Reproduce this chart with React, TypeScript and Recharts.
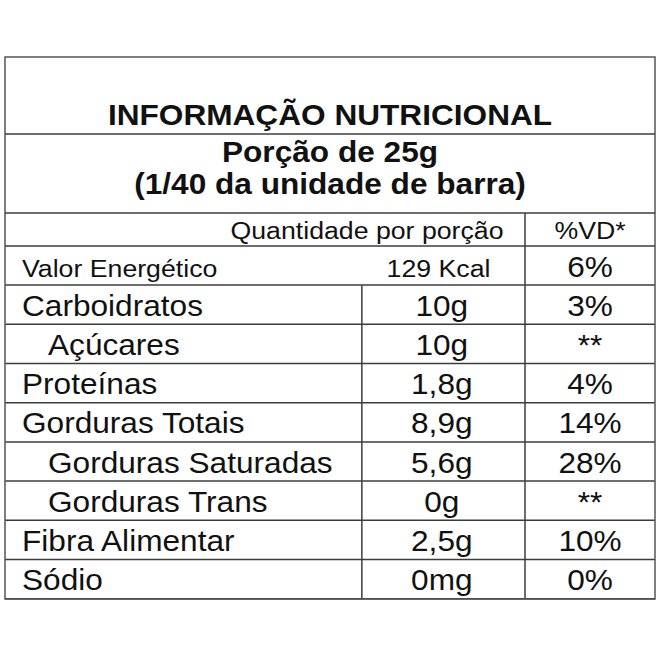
import { Bar, BarChart, LabelList, XAxis, YAxis } from "recharts";

// table content
const nutrients = [
  "Valor Energético",
  "Carboidratos",
  "Açúcares",
  "Proteínas",
  "Gorduras Totais",
  "Gorduras Saturadas",
  "Gorduras Trans",
  "Fibra Alimentar",
  "Sódio",
];
const amounts = ["129 Kcal", "10g", "10g", "1,8g", "8,9g", "5,6g", "0g", "2,5g", "0mg"];
const dailyValues = ["6%", "3%", "**", "4%", "14%", "28%", "**", "10%", "0%"];
const subItems = ["Açúcares", "Gorduras Saturadas", "Gorduras Trans"];

const title = "INFORMAÇÃO NUTRICIONAL";
const portionLines = ["Porção de 25g", "(1/40 da unidade de barra)"];
const amountHeader = "Quantidade por porção";
const dailyHeader = "%VD*";

const W = 660;
const H = 660;
const LEFT = 5;
const RIGHT = 655;
const TOP = 57;
const BOTTOM = 599;
const BODY_TOP = 246;
const SX = 1.09; // the label's lettering is a bit wide
const FONT = "'Liberation Sans', Arial, sans-serif";
const INK = "#111";
const RULE = "#3c3c3c";
const BIG = 29;
const SMALL = 24.5;
const BASE_OFFSET = 11;

const MID_COL = 0.549; // name | amount divider, share of width
const VD_COL = 0.8; // amount | %VD divider
const AMOUNT_CENTER = 0.672;
const VD_CENTER = 0.9;

const rows = nutrients.map((name, i) => ({
  name,
  amount: amounts[i],
  vd: dailyValues[i],
  span: 1,
}));

function Txt({ x, y, size, bold, anchor = "start", children }: any) {
  return (
    <text
      transform={`translate(${x},${y}) scale(${SX},1)`}
      textAnchor={anchor}
      fontFamily={FONT}
      fontSize={size}
      fontWeight={bold ? 700 : 400}
      fill={INK}
    >
      {children}
    </text>
  );
}

const RowShape = (props: any) => {
  const { x, y, width, height, index } = props;
  const bottom = y + height;
  return (
    <g>
      <line x1={x} x2={x + width} y1={bottom} y2={bottom} stroke={RULE} strokeWidth={1.5} />
      {index > 0 && (
        <line
          x1={x + width * MID_COL}
          x2={x + width * MID_COL}
          y1={y}
          y2={bottom}
          stroke={RULE}
          strokeWidth={1.5}
        />
      )}
      <line
        x1={x + width * VD_COL}
        x2={x + width * VD_COL}
        y1={y}
        y2={bottom}
        stroke={RULE}
        strokeWidth={1.5}
      />
    </g>
  );
};

const NameLabel = (props: any) => {
  const { x, y, height, value, index } = props;
  const indent = subItems.includes(value) ? 26 : 0;
  const size = index === 0 ? SMALL : BIG;
  return (
    <Txt x={x + 17 + indent} y={y + height / 2 + BASE_OFFSET} size={size}>
      {value}
    </Txt>
  );
};

const AmountLabel = (props: any) => {
  const { x, y, width, height, value, index } = props;
  const size = index === 0 ? SMALL : BIG;
  const cx = index === 0 ? x + width * 0.667 : x + width * AMOUNT_CENTER;
  return (
    <Txt x={cx} y={y + height / 2 + BASE_OFFSET} size={size} anchor="middle">
      {value}
    </Txt>
  );
};

const VdLabel = (props: any) => {
  const { x, y, width, height, value } = props;
  return (
    <Txt x={x + width * VD_CENTER} y={y + height / 2 + BASE_OFFSET} size={BIG} anchor="middle">
      {value}
    </Txt>
  );
};

function Header() {
  const vdX = LEFT + (RIGHT - LEFT) * VD_COL;
  return (
    <svg
      width={W}
      height={H}
      style={{ position: "absolute", left: 0, top: 0, pointerEvents: "none" }}
    >
      <rect
        x={LEFT}
        y={TOP}
        width={RIGHT - LEFT}
        height={BOTTOM - TOP}
        fill="none"
        stroke="#555"
        strokeWidth={1.5}
      />
      <line x1={LEFT} x2={RIGHT} y1={134} y2={134} stroke={RULE} strokeWidth={1.5} />
      <line x1={LEFT} x2={RIGHT} y1={213} y2={213} stroke={RULE} strokeWidth={1.5} />
      <line x1={LEFT} x2={RIGHT} y1={BODY_TOP} y2={BODY_TOP} stroke={RULE} strokeWidth={1.5} />
      <line x1={vdX} x2={vdX} y1={213} y2={BODY_TOP} stroke={RULE} strokeWidth={1.5} />
      <Txt x={330} y={125} size={BIG} bold anchor="middle">
        {title}
      </Txt>
      <Txt x={330} y={162} size={BIG} bold anchor="middle">
        {portionLines[0]}
      </Txt>
      <Txt x={330} y={194} size={BIG} bold anchor="middle">
        {portionLines[1]}
      </Txt>
      <Txt x={367} y={239} size={SMALL} anchor="middle">
        {amountHeader}
      </Txt>
      <Txt x={590} y={239} size={SMALL} anchor="middle">
        {dailyHeader}
      </Txt>
    </svg>
  );
}

export default function App() {
  return (
    <div style={{ position: "absolute", left: 0, top: 0, width: W, height: H, background: "#fff" }}>
      <BarChart
        width={W}
        height={H}
        data={rows}
        layout="vertical"
        barCategoryGap={0}
        margin={{ top: BODY_TOP, right: W - RIGHT, bottom: H - BOTTOM, left: LEFT }}
      >
        <XAxis type="number" domain={[0, 1]} hide />
        <YAxis type="category" dataKey="name" hide />
        <Bar dataKey="span" shape={RowShape} isAnimationActive={false}>
          <LabelList dataKey="name" content={NameLabel} />
          <LabelList dataKey="amount" content={AmountLabel} />
          <LabelList dataKey="vd" content={VdLabel} />
        </Bar>
      </BarChart>
      <Header />
    </div>
  );
}
